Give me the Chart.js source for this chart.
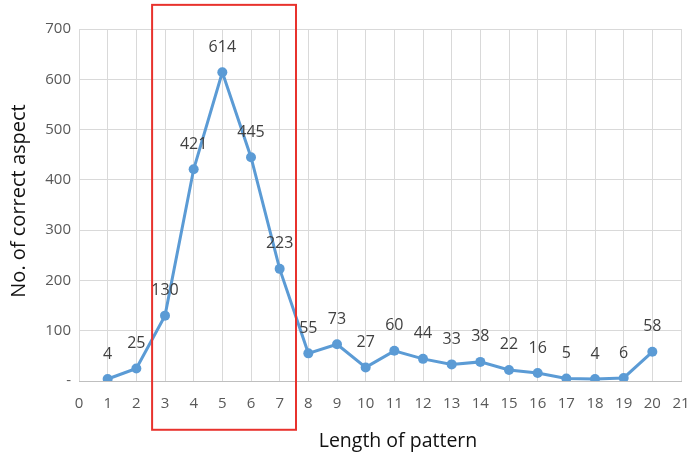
<!DOCTYPE html>
<html>
<head>
<meta charset="utf-8">
<script src="https://cdn.jsdelivr.net/npm/chart.js@4"></script>
<style>
  html, body { margin: 0; padding: 0; background: #fff; }
  #wrap { width: 689px; height: 457px; }
</style>
</head>
<body>
<div id="wrap"><canvas id="lineChart" width="689" height="457"></canvas></div>
<script>
// pattern length vs. number of correct aspects
const lengths = [1, 2, 3, 4, 5, 6, 7, 8, 9, 10, 11, 12, 13, 14, 15, 16, 17, 18, 19, 20];
const correct = [4, 25, 130, 421, 614, 445, 223, 55, 73, 27, 60, 44, 33, 38, 22, 16, 5, 4, 6, 58];
const yTicks = [0, 100, 200, 300, 400, 500, 600, 700];
const xTitle = "Length of pattern";
const yTitle = "No. of correct aspect";

// highlighted range (axis units), box runs past the plot edges
const boxX = [2.55, 7.57];
const boxY = [-97, 748];

const FONT = "'Open Sans', 'Noto Sans', sans-serif";

const pointLabels = {
    id: "pointLabels",
    afterDatasetsDraw(chart) {
        const c = chart.ctx;
        const meta = chart.getDatasetMeta(0);
        c.save();
        c.font = "16px " + FONT;
        c.fillStyle = "#404040";
        c.textAlign = "center";
        c.textBaseline = "middle";
        meta.data.forEach((pt, i) => {
            c.fillText(String(correct[i]), pt.x, pt.y - 25);
        });
        c.restore();
    }
};

// axis titles drawn by hand so they can sit where the layout wants them
const axisTitles = {
    id: "axisTitles",
    afterDraw(chart) {
        const a = chart.chartArea;
        const c = chart.ctx;
        c.save();
        c.fillStyle = "#111";
        c.textAlign = "center";
        c.textBaseline = "middle";
        c.font = "500 19.5px " + FONT;
        c.fillText(xTitle, (a.left + a.right) / 2 + 18, a.bottom + 60);
        c.translate(19, (a.top + a.bottom) / 2 - 4);
        c.rotate(-Math.PI / 2);
        c.font = "500 20px " + FONT;
        c.fillText(yTitle, 0, 0);
        c.restore();
    }
};

const highlightBox = {
    id: "highlightBox",
    afterDraw(chart) {
        const x = chart.scales.x, y = chart.scales.y;
        const x0 = x.getPixelForValue(boxX[0]), x1 = x.getPixelForValue(boxX[1]);
        const y0 = y.getPixelForValue(boxY[1]), y1 = y.getPixelForValue(boxY[0]);
        const c = chart.ctx;
        c.save();
        c.strokeStyle = "#e8322d";
        c.lineWidth = 2;
        c.strokeRect(x0, y0, x1 - x0, y1 - y0);
        c.restore();
    }
};

const ctx = document.getElementById("lineChart").getContext("2d");
new Chart(ctx, {
    type: "line",
    data: {
        datasets: [{
            data: lengths.map((l, i) => ({ x: l, y: correct[i] })),
            borderColor: "#5b9bd5",
            backgroundColor: "#5b9bd5",
            borderWidth: 3,
            pointRadius: 5,
            pointBorderWidth: 0,
            tension: 0
        }]
    },
    options: {
        responsive: false,
        animation: false,
        layout: { padding: { top: 29, right: 8, left: 0, bottom: 0 } },
        plugins: { legend: { display: false }, tooltip: { enabled: false } },
        scales: {
            x: {
                type: "linear",
                min: 0, max: 21,
                ticks: { stepSize: 1, color: "#595959", font: { family: FONT, size: 15 }, padding: 14 },
                grid: { color: "#d9d9d9", lineWidth: 1, drawTicks: false },
                border: { color: "#bfbfbf" },
                afterFit: s => { s.height = 76; s.paddingLeft = 0; s.paddingRight = 0; }
            },
            y: {
                min: 0, max: 700,
                afterBuildTicks: s => { s.ticks = yTicks.map(v => ({ value: v })); },
                ticks: { color: "#595959", font: { family: FONT, size: 15 }, padding: 8,
                         callback: v => v === 0 ? "-" : v },
                grid: { color: "#d9d9d9", lineWidth: 1, drawTicks: false },
                border: { display: false },
                afterFit: s => { s.width = 79; }
            }
        }
    },
    plugins: [pointLabels, axisTitles, highlightBox]
});
</script>
</body>
</html>
